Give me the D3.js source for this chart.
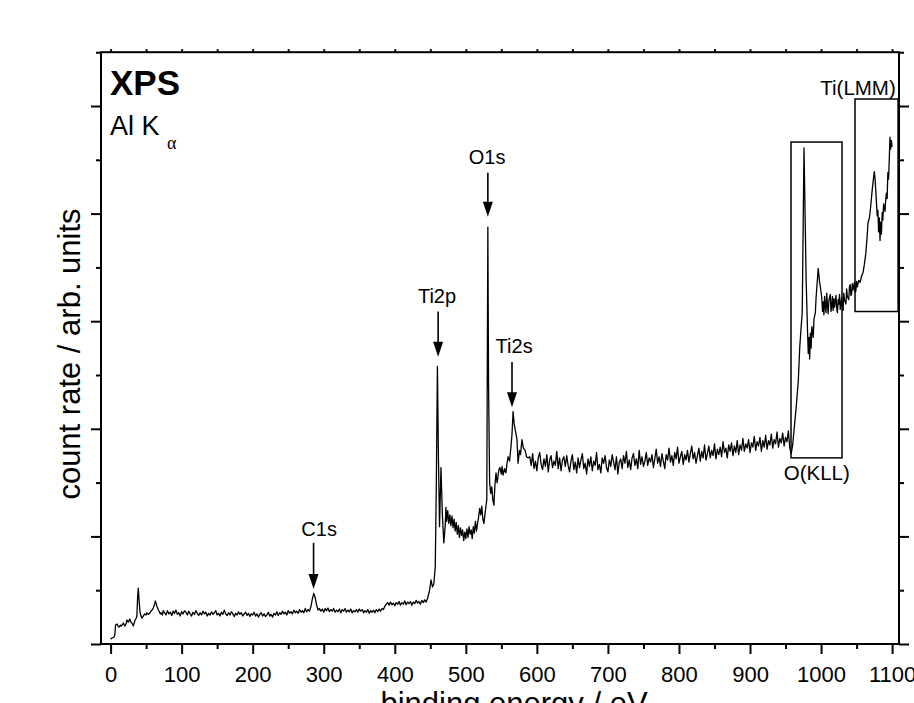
<!DOCTYPE html>
<html><head><meta charset="utf-8">
<script src="https://cdn.jsdelivr.net/npm/d3@7"></script>
<style>body{margin:0;background:#fff} svg{display:block} text{font-family:"Liberation Sans",Arial,sans-serif;fill:#000}</style>
</head><body><svg id="c" width="914" height="703"></svg>
<script>
// ---------- data ----------
const xTickValues = [0,100,200,300,400,500,600,700,800,900,1000,1100];
const xMinorValues = [50,150,250,350,450,550,650,750,850,950,1050];
const yMajorValues = [0,10,20,30,40,50];
const yMinorValues = [5,15,25,35,45,55];

const lowRegion = [[0,0.44],[2,0.56],[5,0.65],[6,0.9],[7,1.77],[9,1.86],[10,1.7],[12,1.58],[14,1.75],[15,1.67],[17,1.85],[18,1.95],[20,1.67],[22,1.9],[23,2.23],[25,2.04],[27,2.32],[28,2.1],[30,1.95],[32,1.67],[33,1.9],[34,2.14],[36,2.4],[37,2.6],[38,4.3],[39,5.2],[40,4.1],[41.5,2.9],[43,2.6],[44,2.4],[46,2.6],[48,2.8],[50,2.7],[51,2.9],[53,2.75],[54,2.8],[56,2.95],[57,3.07],[59,3.2],[60,3.35],[62,3.7],[63,4.0],[64,3.8],[65.5,3.44],[67,3.2],[68,3.07],[70,2.8],[71,2.9],[73,2.7],[74,3.1],
[76,2.9],[78,2.7],[80,3.1],[82,2.8],[84,2.95],[86,2.65],[88,3.05],[90,2.85],[92,3.15],[94,2.75],[96,2.9],[98,2.6],[100,3.0],[102,2.8],[104,3.1],[106,2.95],[108,2.7],[110,3.05],[112,2.8],[114,2.6],[116,2.95],[118,2.75],[120,3.1],[122,2.85],[124,2.65],[126,2.9],[128,2.7],[130,3.05],[132,2.8],[134,2.95],[136,2.6],[138,2.85],[140,2.7],[142,3.0],[144,2.75],[146,2.9],[148,3.1],[150,2.7],[152,2.85],[154,2.6],[156,2.95],[158,2.75],[160,3.15],[162,2.8],[164,2.65],[166,2.9],[168,2.7],[170,3.0],[172,2.8],[174,2.55],[176,2.85],[178,2.7],[180,3.0],[182,2.75],[184,2.9],[186,2.6],[188,2.8],[190,2.95],[192,2.65],[194,2.85],[196,2.55],[198,2.8],[200,2.7],[202,2.95],[204,2.6],[206,2.8],[208,2.5],[210,2.75],[212,2.9],[214,2.6],[216,2.8],[218,2.55],[220,2.7],[222,2.95],[224,2.6],[226,2.75],[228,2.5],[230,2.85],[232,2.7],[234,3.0],[236,2.65],[238,2.9],[240,2.75],[242,3.05],[244,2.8],[246,2.95],[248,2.7],[250,3.1],[252,2.85],[254,3.0],[256,2.8],[258,3.15],[260,2.9],[262,3.05],[264,2.85],[266,3.2],[268,2.95],[270,3.1],[272,2.9],[274,3.3],[276,3.0],[278,3.2],[280,3.05],
[282,3.5],[284,4.2],[286,4.7],[288,4.3],[290,3.6],[292,3.15],
[294,3.3],[296,3.05],[298,3.25],[300,2.95],[302,3.3],[304,3.1],[306,3.35],[308,3.0],[310,3.2],[312,3.05],[314,3.3],[316,2.95],[318,3.15],[320,3.0],[322,3.25],[324,2.9],[326,3.2],[328,3.05],[330,3.3],[332,2.95],[334,3.15],[336,3.0],[338,3.25],[340,2.9],[342,3.1],[344,3.0],[346,3.2],[348,2.95],[350,3.25],[352,3.05],[354,3.2],[356,2.9],[358,3.1],[360,2.95],[362,3.2],[364,2.85],[366,3.1],[368,2.95],[370,3.15],[372,2.9],[374,3.2],[376,3.0],[378,3.25],[380,3.05],[382,3.3],[384,3.2],[386,3.5],[388,3.7],[390,3.85],[392,3.6],[394,3.9],[396,3.65],[398,3.8],[400,3.55],[402,3.85],[404,3.7],[406,3.95],[408,3.6],[410,3.85],[412,3.7],[414,4.0],[416,3.65],[418,3.9],[420,3.75],[422,3.95],[424,3.6],[426,3.9],[428,3.75],[430,4.05],[432,3.8],[434,3.95],[436,3.7],[438,4.05],[440,3.85],[442,4.1],[444,3.9],[446,4.2],[447.5,4.6],[449,5.0],[451,5.95],[453,5.3],[455,5.6],[457,7.2]];

const tiRegion = [[458.5,15],[460,25.8],[461.5,17],[463,10.9],[465,16.4],[467,12],[469,9.4],[471,11],[472,12.7],[473,11.4],[474.5,12.4],[476,11.2],[477.5,12.0],[479,11.0],[480.5,11.9],[482,10.8],[483.5,11.6],[485,10.5],[486.5,11.3],[488,10.2],[489.5,11.0],[491,9.9],[492.5,10.8],[494,10.1],[495.5,10.6],[497,9.6],[498.5,10.4],[500,9.8],[501.5,10.7],[503,9.9],[504.5,10.9],[506,10.2],[507.5,10.6],[509,9.8],[510.5,10.9],[512,10.3],[513.5,11.4],[515,10.5],[516.5,11.2],[518,11.8],[519.5,12.6],[521,12.0],[522.5,12.8],[524,11.6],[525.5,11.2],[527,12.1],[528.5,12.9],[529.5,13.4],
[531,38.75],[532,24],[533.5,15],[535,14.0],[536.5,14.6],[538,13.4],[539.5,12.9],[541,14.8],[542.5,15.9],[544,15.0],[545,15.4],[546.5,16.2],[548,16.4],[550,15.8],[551,16.5],[552.5,15.7],[554.5,16.3],[556.5,15.9],[558,16.8],[559.5,17.4],[561.5,17.0],[563.5,18.3],[565,19.5],[566.5,21.6],[568,20.5],[569.5,19.9],[571,19.4],[572,19.0],[573.5,16.8],[575.5,18.0],[577,17.6],[579,19.0],[581,18.2],[583.5,18.0],[585.5,17.4],[587.5,17.3]];

const plateau = [[590,17.4],[592,16.6],[594,17.7],[596,16.3],[598,17.0],[600,16.1],[602,17.3],[604,17.8],[606,16.7],[608,16.2],[610,17.2],[612,16.5],[614,17.6],[616,16.0],[618,17.1],[620,17.5],[622,16.4],[624,17.0],[626,16.6],[628,17.9],[630,16.3],[632,17.3],[634,16.1],[636,17.1],[638,17.4],[640,16.5],[642,17.5],[644,16.6],[646,16.0],[648,17.0],[650,17.6],[652,16.2],[654,16.9],[656,15.9],[658,17.3],[660,16.4],[662,17.1],[664,17.7],[666,16.3],[668,16.8],[670,15.8],[672,17.2],[674,16.5],[676,17.4],[678,16.1],[680,17.0],[682,16.6],[684,17.8],[686,16.2],[688,16.7],[690,15.9],[692,17.3],[694,16.8],[696,17.5],[698,16.4],[700,16.0],[702,17.1],[704,16.5],[706,17.6],[708,16.9],[710,16.2],[712,17.4],[714,15.8],[716,16.9],[718,17.2],[720,16.3],[722,17.5],[724,16.8],[726,17.9],[728,16.4],[730,17.1],[732,16.2],[734,17.3],[736,17.7],[738,16.6],[740,17.2],[742,16.3],[744,18.0],[746,16.7],[748,17.4],[750,16.5],[752,17.0],[754,17.8],[756,16.6],[758,17.3],[760,16.9],[762,17.6],[764,16.4],[766,17.2],[768,18.1],[770,16.8],[772,17.4],[774,16.5],[776,17.7],[778,17.0],[780,16.3],[782,17.6],[784,17.1],[786,18.2],[788,16.9],[790,17.5],[792,16.6],[794,17.8],[796,17.2],[798,18.3],[800,16.8],[802,17.4],[804,17.9],[806,16.7],[808,17.6],[810,17.1],[812,18.0],[814,16.9],[816,17.7],[818,18.4],[820,17.2],[822,17.8],[824,16.8],[826,17.5],[828,18.2],[830,17.0],[832,17.9],[834,17.3],[836,18.5],[838,17.1],[840,17.7],[842,18.4],[844,17.3],[846,18.0],[848,17.5],[850,18.6],[852,17.2],[854,18.1],[856,17.6],[858,18.3],[860,17.4],[862,18.8],[864,17.8],[866,18.2],[868,17.3],[870,18.5],[872,17.9],[874,18.7],[876,17.5],[878,18.4],[880,17.8],[882,18.9],[884,17.6],[886,18.5],[888,18.0],[890,19.1],[892,17.9],[894,18.6],[896,18.2],[898,19.0],[900,17.8],[902,18.7],[904,18.3],[906,19.3],[908,18.0],[910,18.8],[912,18.4],[914,19.2],[916,17.9],[918,18.9],[920,18.3],[922,19.4],[924,18.1],[926,18.9],[928,18.5],[930,19.5],[932,18.2],[934,19.0],[936,18.6],[938,19.7],[940,18.3],[942,19.1],[944,18.7],[946,19.6],[948,18.4],[950,19.2],[952,18.8],[954,19.8],[956,18.2],[958,17.7]];

const augerRegion = [[960,18.5],[962,19.9],[965,22],[968,24.5],[970,27.6],[972,29.5],[973.5,30.8],[975,40],[976,46.1],[977.5,40],[979,33.8],[981,29],[982,27.0],[983,28.5],[984,26.5],[985,28.9],[986,27.5],[987,29.5],[989,28.5],[990,30.2],[992,30.8],[993,32.2],[995,34],[996,34.9],[998,33.6],[999,33.2],[1001,32.2],[1002,30.9],[1003,31.8],[1004,30.6],[1005,32.3],[1006,31.4],[1007,30.8],[1008,32.6],[1009,31.5],[1010,30.7],[1011,31.9],[1013,32.5],[1014,30.9],[1015,31.4],[1016,32.3],[1017,31.0],[1018,32.1],[1019,31.3],[1021,32.4],[1022,31.2],[1023,30.8],[1024,32.0],[1025,31.6],[1026,32.5],[1027,31.1],[1029,32.2],[1030,31.4],[1031,31.0],[1032,32.6],[1033,32.0],[1035,31.6],[1036,33.0],[1037,32.3],[1039,32.0],[1040,33.2],[1041,33.4],[1042,32.4],[1043,32.5],[1044,33.5],[1045,32.9],[1047,33.6],[1048,32.7],[1049,32.8],[1050,33.7],[1051,33.2],[1053,33.8],[1055,33.6],[1057,34.2],[1059,34.5],[1061,35.3],[1063,36.3],[1065,38.0],[1066,39.1],[1068,39.6],[1069,40.1],[1071,41.5],[1072,42.2],[1074,43.4],[1075,43.9],[1076,43.2],[1077,42.2],[1078,41.0],[1079,39.8],[1080,40.3],[1081,38.3],[1082,39.6],[1083,37.5],[1084,39.2],[1085,38.1],[1086,40.1],[1087,39.4],[1088,40.9],[1089,40.6],[1090,40.2],[1091,41.3],[1092,41.9],[1093,41.4],[1094,43.8],[1095,43.2],[1096,45.0],[1097,47.1],[1098,46.0],[1099,46.8],[1100,46.2]];

const peakNames = ["C1s","Ti2p","O1s","Ti2s"];
const peakArrowEnergy = [285.7, 461, 531, 565];
const peakLabelEnergy = [293.5, 459.5, 530, 568];
const peakLabelCount = [10.0, 31.7, 44.6, 27.0];
const peakArrowTop = [9.4, 30.9, 43.8, 26.2];
const peakArrowTip = [5.1, 26.7, 39.7, 22.0];

const boxNames = ["O(KLL)","Ti(LMM)"];
const boxEnergyFrom = [957.7, 1047.8];
const boxEnergyTo = [1029.5, 1108.4];
const boxCountFrom = [17.3, 30.9];
const boxCountTo = [46.65, 50.65];
const boxLabelEnergy = [994, 1052];
const boxLabelCount = [15.2, 51.0];

// ---------- chart ----------
const svg = d3.select("#c");
const L = 101, R = 899, T = 52.2, B = 644;
const x = d3.scaleLinear().domain([-13.5, 1109.7]).range([L, R]);
const y = d3.scaleLinear().domain([0, 55]).range([B, T]);

// axes
const gB = svg.append("g").attr("transform", `translate(0,${B})`);
gB.call(d3.axisBottom(x).tickValues(xTickValues).tickSize(10).tickPadding(12).tickFormat(d3.format("d")));
const gBm = svg.append("g").attr("transform", `translate(0,${B})`);
gBm.call(d3.axisBottom(x).tickValues(xMinorValues).tickSize(5).tickFormat(""));
const gT = svg.append("g").attr("transform", `translate(0,${T})`);
gT.call(d3.axisTop(x).tickValues(xTickValues.concat(xMinorValues)).tickSize(3).tickFormat(""));
const gL = svg.append("g").attr("transform", `translate(${L},0)`);
gL.call(d3.axisLeft(y).tickValues(yMajorValues).tickSize(10).tickFormat(""));
const gLm = svg.append("g").attr("transform", `translate(${L},0)`);
gLm.call(d3.axisLeft(y).tickValues(yMinorValues).tickSize(5).tickFormat(""));
const gR = svg.append("g").attr("transform", `translate(${R},0)`);
gR.call(d3.axisRight(y).tickValues(yMajorValues).tickSize(10).tickFormat(""));
const gRm = svg.append("g").attr("transform", `translate(${R},0)`);
gRm.call(d3.axisRight(y).tickValues(yMinorValues).tickSize(5).tickFormat(""));
svg.selectAll(".domain").remove();
svg.selectAll(".tick line").attr("stroke", "#000").attr("stroke-width", 2);
gB.selectAll(".tick text").attr("font-size", 22).attr("font-family", '"Liberation Sans",Arial,sans-serif').attr("fill", "#000");

// frame
svg.append("rect").attr("x", L).attr("y", T).attr("width", R - L).attr("height", B - T)
  .attr("fill", "none").attr("stroke", "#000").attr("stroke-width", 2);

// axis titles
svg.append("text").attr("x", 514).attr("y", 714).attr("text-anchor", "middle")
  .attr("font-size", 31).text("binding energy / eV");
svg.append("text").attr("transform", "translate(80,354) rotate(-90)").attr("text-anchor", "middle")
  .attr("font-size", 31).text("count rate / arb. units");

// spectrum
const spectrum = lowRegion.concat(tiRegion, plateau, augerRegion);
const line = d3.line().x(d => x(d[0])).y(d => y(d[1]));
svg.append("path").datum(spectrum).attr("d", line).attr("fill", "none")
  .attr("stroke", "#000").attr("stroke-width", 1.3).attr("stroke-linejoin", "round");

// peak arrows and labels
peakNames.forEach((n, i) => {
  const ax = x(peakArrowEnergy[i]);
  const tipY = y(peakArrowTip[i]);
  svg.append("line").attr("x1", ax).attr("x2", ax).attr("y1", y(peakArrowTop[i])).attr("y2", tipY - 10)
    .attr("stroke", "#000").attr("stroke-width", 1.6);
  svg.append("path").attr("d", `M${ax - 5},${tipY - 15} L${ax + 5},${tipY - 15} L${ax},${tipY} Z`).attr("fill", "#000");
  svg.append("text").attr("x", x(peakLabelEnergy[i])).attr("y", y(peakLabelCount[i]))
    .attr("text-anchor", "middle").attr("font-size", 20).text(n);
});

// boxes
boxNames.forEach((n, i) => {
  const x0 = x(boxEnergyFrom[i]), x1 = x(boxEnergyTo[i]);
  const y0 = y(boxCountTo[i]), y1 = y(boxCountFrom[i]);
  svg.append("rect").attr("x", x0).attr("y", y0).attr("width", x1 - x0).attr("height", y1 - y0)
    .attr("fill", "none").attr("stroke", "#000").attr("stroke-width", 1.5);
  svg.append("text").attr("x", x(boxLabelEnergy[i])).attr("y", y(boxLabelCount[i]))
    .attr("text-anchor", "middle").attr("font-size", 20.5).text(n);
});

// title block
svg.append("text").attr("x", 110).attr("y", 95).attr("font-size", 35).attr("font-weight", "bold").text("XPS");
svg.append("text").attr("x", 110).attr("y", 135).attr("font-size", 27).text("Al K");
svg.append("text").attr("x", 167).attr("y", 149).attr("font-size", 18)
  .style("font-family", '"Liberation Serif","DejaVu Serif",serif').text("α");
</script></body></html>
